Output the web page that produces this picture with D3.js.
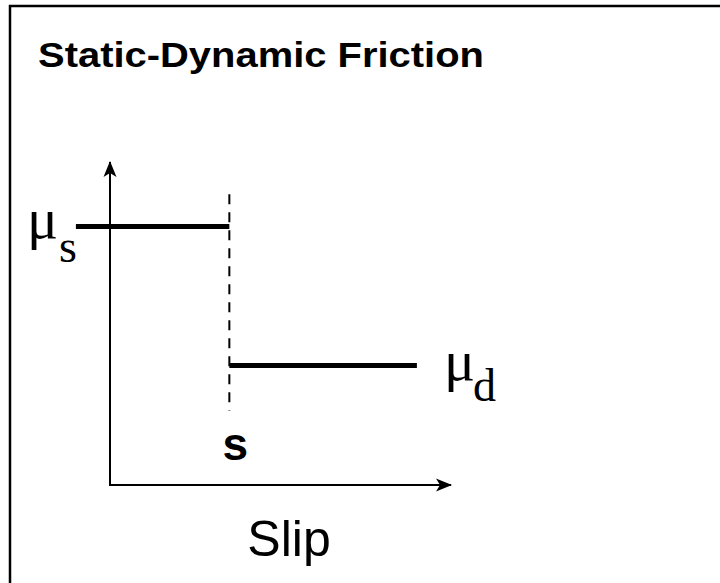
<!DOCTYPE html>
<html>
<head>
<meta charset="utf-8">
<script src="https://cdn.jsdelivr.net/npm/d3@7"></script>
<style>
  html, body { margin: 0; padding: 0; background: #fff; }
  svg { display: block; }
</style>
</head>
<body>
<script>
// ---- data ----
const title = "Static-Dynamic Friction";
const segmentNames = ["static", "dynamic"];
const segmentStart = [-1, 3.5];      // slip units
const segmentEnd = [3.5, 9];
const segmentValue = [8, 3.7];       // friction units
const segmentLabelMain = ["\u03bc", "\u03bc"];
const segmentLabelSub = ["s", "d"];
const slipThreshold = 3.5;
const thresholdRange = [9, 2.3];
const thresholdLabel = "s";
const xAxisLabel = "Slip";
const xDomain = [0, 10];
const yDomain = [0, 10];

const W = 720, H = 583;
const svg = d3.select("body").append("svg").attr("width", W).attr("height", H);

// frame (right and bottom edges lie outside the picture)
svg.append("rect").attr("x", 10).attr("y", 6).attr("width", W + 20).attr("height", H + 20)
  .attr("fill", "none").attr("stroke", "#000").attr("stroke-width", 2.5);

svg.append("text").attr("x", 38).attr("y", 67)
  .attr("font-family", "Liberation Sans, Arial, sans-serif").attr("font-weight", "bold")
  .attr("font-size", 35).attr("textLength", 446).attr("lengthAdjust", "spacingAndGlyphs")
  .text(title);

const x = d3.scaleLinear().domain(xDomain).range([110, 451]);
const y = d3.scaleLinear().domain(yDomain).range([485, 162]);

const defs = svg.append("defs");
defs.append("marker").attr("id", "arrow").attr("viewBox", "0 -7 16 14")
  .attr("refX", 15).attr("refY", 0).attr("markerWidth", 16).attr("markerHeight", 14)
  .attr("markerUnits", "userSpaceOnUse").attr("orient", "auto")
  .append("path").attr("d", "M0,-6.5L16,0L0,6.5L4,0Z").attr("fill", "#000");

// axes
svg.append("line").attr("x1", x(0)).attr("y1", y(0)).attr("x2", x(0)).attr("y2", y(10))
  .attr("stroke", "#000").attr("stroke-width", 2).attr("marker-end", "url(#arrow)");
svg.append("line").attr("x1", x(0) - 1).attr("y1", y(0)).attr("x2", x(10)).attr("y2", y(0))
  .attr("stroke", "#000").attr("stroke-width", 2).attr("marker-end", "url(#arrow)");

// threshold dashed line
svg.append("line").attr("x1", x(slipThreshold)).attr("x2", x(slipThreshold))
  .attr("y1", y(thresholdRange[0])).attr("y2", y(thresholdRange[1]))
  .attr("stroke", "#000").attr("stroke-width", 2).attr("stroke-dasharray", "10,8");

// friction segments
svg.selectAll("line.seg").data(segmentNames).enter().append("line").attr("class", "seg")
  .attr("x1", (d, i) => x(segmentStart[i])).attr("x2", (d, i) => x(segmentEnd[i]))
  .attr("y1", (d, i) => y(segmentValue[i])).attr("y2", (d, i) => y(segmentValue[i]))
  .attr("stroke", "#000").attr("stroke-width", 5);

// labels
const labelPos = [
  { mx: 27, my: 238, sx: 59, sy: 262 },
  { mx: 444, my: 380, sx: 473, sy: 401 }
];
segmentNames.forEach((d, i) => {
  svg.append("text").attr("x", labelPos[i].mx).attr("y", labelPos[i].my)
    .attr("font-family", "Liberation Serif, Times New Roman, serif").attr("font-size", 58)
    .text(segmentLabelMain[i]);
  svg.append("text").attr("x", labelPos[i].sx).attr("y", labelPos[i].sy)
    .attr("font-family", "Liberation Serif, Times New Roman, serif").attr("font-size", 46)
    .text(segmentLabelSub[i]);
});

svg.append("text").attr("x", x(slipThreshold) + 6).attr("y", 460).attr("text-anchor", "middle")
  .attr("font-family", "Liberation Sans, Arial, sans-serif").attr("font-weight", "bold")
  .attr("font-size", 46).text(thresholdLabel);

svg.append("text").attr("x", 289).attr("y", 556).attr("text-anchor", "middle")
  .attr("font-family", "Liberation Sans, Arial, sans-serif")
  .attr("font-size", 50).text(xAxisLabel);
</script>
</body>
</html>
